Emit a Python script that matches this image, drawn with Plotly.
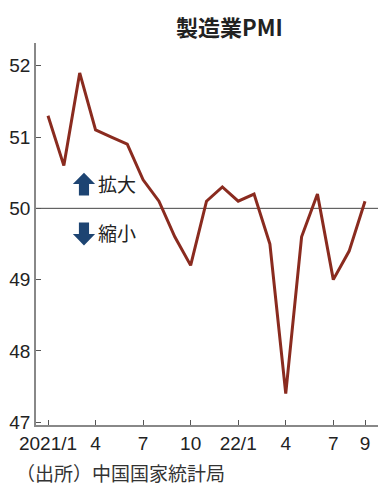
import plotly.graph_objects as go

months = ["2021/1","2021/2","2021/3","2021/4","2021/5","2021/6","2021/7","2021/8","2021/9","2021/10","2021/11","2021/12",
          "2022/1","2022/2","2022/3","2022/4","2022/5","2022/6","2022/7","2022/8","2022/9"]
pmi = [51.3, 50.6, 51.9, 51.1, 51.0, 50.9, 50.4, 50.1, 49.6, 49.2, 50.1, 50.3,
       50.1, 50.2, 49.5, 47.4, 49.6, 50.2, 49.0, 49.4, 50.1]
tick_pos = [0, 3, 6, 9, 12, 15, 18, 20]
tick_text = ["2021/1", "4", "7", "10", "22/1", "4", "7", "9"]
y_ticks = [47, 48, 49, 50, 51, 52]

x = list(range(len(months)))
FONT = "Liberation Sans Narrow, Liberation Sans, Arial Narrow, sans-serif"
CJK = "Noto Sans CJK JP"

fig = go.Figure()
fig.add_trace(go.Scatter(x=x, y=pmi, mode="lines", line=dict(color="#8a2b1f", width=3),
                         hoverinfo="skip", showlegend=False))

navy = "#1d4472"
def arrow(cx, ytop, ybot, up=True):
    hw = 0.70  # half head width (x units)
    sw = 0.32  # half shaft width
    hh = (ytop - ybot) * 0.5
    if up:
        p = (f"M {cx-sw},{ybot} L {cx-sw},{ytop-hh} L {cx-hw},{ytop-hh} L {cx},{ytop} "
             f"L {cx+hw},{ytop-hh} L {cx+sw},{ytop-hh} L {cx+sw},{ybot} Z")
    else:
        p = (f"M {cx-sw},{ytop} L {cx-sw},{ybot+hh} L {cx-hw},{ybot+hh} L {cx},{ybot} "
             f"L {cx+hw},{ybot+hh} L {cx+sw},{ybot+hh} L {cx+sw},{ytop} Z")
    fig.add_shape(type="path", path=p, xref="x", yref="y", fillcolor=navy, line=dict(width=0))

arrow(2.27, 50.50, 50.18, up=True)
arrow(2.27, 49.80, 49.48, up=False)

fig.add_annotation(x=3.05, y=50.35, text="拡大", showarrow=False, xanchor="left",
                   font=dict(family=CJK, size=19, color="#222"))
fig.add_annotation(x=3.05, y=49.66, text="縮小", showarrow=False, xanchor="left",
                   font=dict(family=CJK, size=19, color="#222"))

fig.add_shape(type="line", xref="paper", yref="y", x0=0, x1=1, y0=50, y1=50,
              line=dict(color="#444", width=1), layer="below")

fig.add_annotation(xref="paper", yref="paper", x=0.567, y=1, yshift=17,
                   text="<b>製造業PMI</b>", showarrow=False,
                   font=dict(family=CJK, size=22, color="#222"), yanchor="middle")
fig.add_annotation(xref="paper", yref="paper", x=-0.065, y=0, yshift=-32, text="（出所）中国国家統計局",
                   showarrow=False, xanchor="left", yanchor="top",
                   font=dict(family=CJK, size=19, color="#333"))

# page body has an 8px margin: shrink the figure and margins so the plot area lands right
fig.update_layout(
    width=381, height=485,
    margin=dict(l=28, r=11, t=35, b=68, autoexpand=False),
    plot_bgcolor="white", paper_bgcolor="white",
    xaxis=dict(range=[-0.757, 20.82], tickvals=tick_pos, ticktext=tick_text, automargin=False,
               ticks="inside", ticklen=5, tickcolor="#555", showgrid=False, zeroline=False,
               showline=True, linecolor="#888", linewidth=1.5,
               tickfont=dict(family=FONT, size=19, color="#222")),
    yaxis=dict(range=[46.96, 52.32], tickvals=y_ticks, automargin=False,
               ticks="inside", ticklen=5, tickcolor="#555", showgrid=False, zeroline=False,
               showline=True, linecolor="#888", linewidth=1.5,
               tickfont=dict(family=FONT, size=19, color="#222")),
)

fig.write_html("out.html")
